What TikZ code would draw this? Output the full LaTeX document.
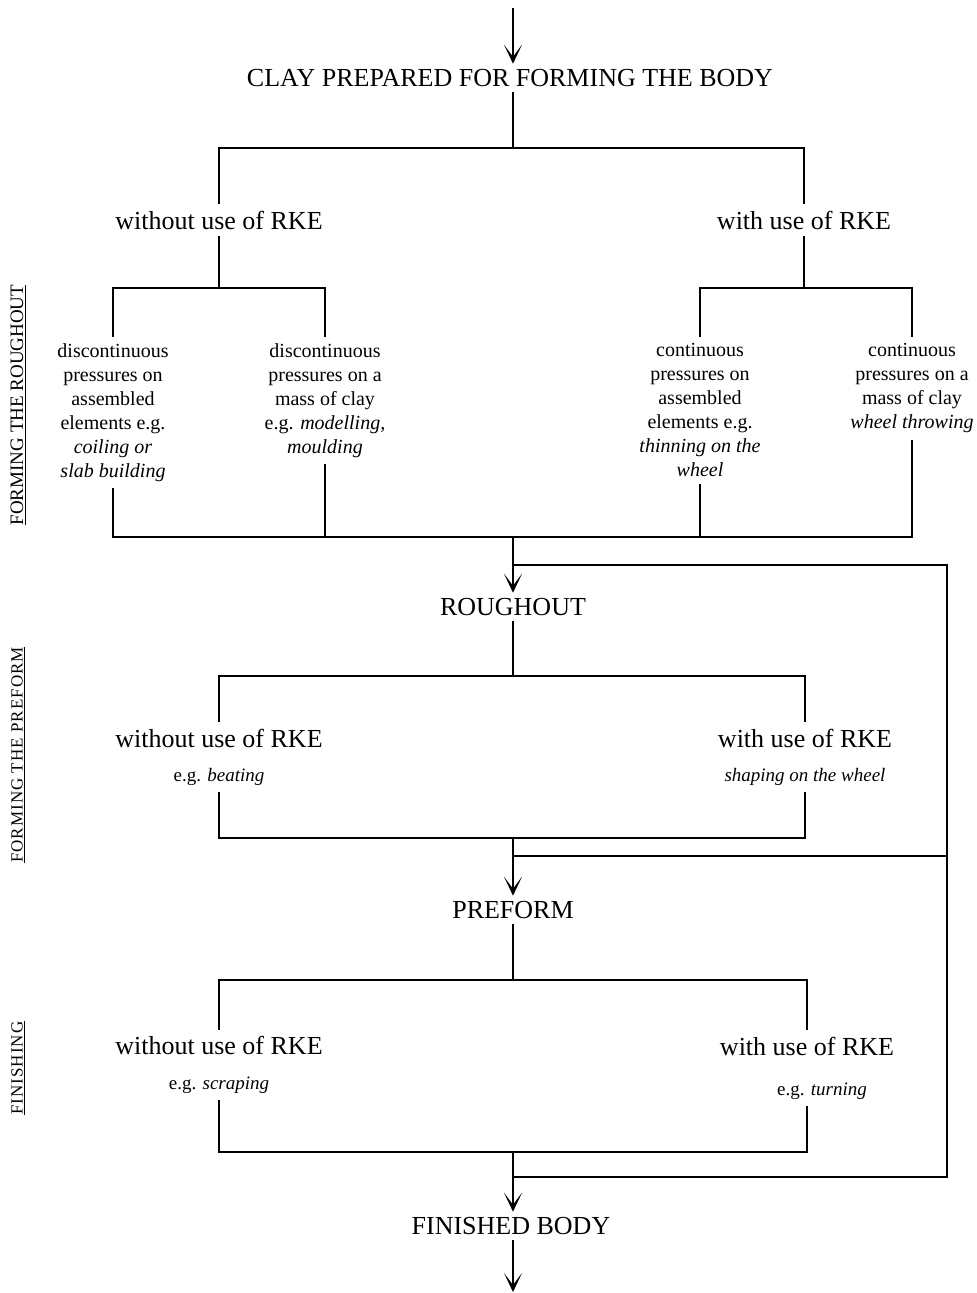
\documentclass[tikz,border=0pt]{standalone}
\usepackage{fontspec}
\setmainfont{Liberation Serif}
\usepackage{tikz}
\usetikzlibrary{arrows.meta,positioning,calc}

\tikzset{
  stage/.style={font=\fontsize{26}{30}\selectfont, inner sep=5pt},
  way/.style={align=center, font=\fontsize{26}{30}\selectfont, inner sep=6pt},
  how/.style={align=center, font=\fontsize{20}{24}\selectfont, inner sep=6pt, anchor=north},
  side/.style={rotate=90, font=\fontsize{19}{22}\selectfont},
  wide/.style={rotate=90, font=\fontsize{17}{19}\selectfont\addfontfeatures{LetterSpace=6}},
  flow/.style={-{Stealth[length=19pt,width=18pt,inset=12pt]}}
}
\newcommand{\eg}[1]{\fontsize{19}{22}\selectfont e.g. \textit{#1}}

\begin{document}
\begin{tikzpicture}[x=1pt, y=-1pt, line width=1.1pt]
    \useasboundingbox (0,0) rectangle (977,1293);

    % Stages
    \coordinate (in) at (513,8);
    \node[stage] (clay) at (510,78) {CLAY PREPARED FOR FORMING THE BODY};
    \node[stage] (rough) at (513,607) {ROUGHOUT};
    \node[stage] (pref) at (513,910) {PREFORM};
    \node[stage] (fin) at (511,1226) {FINISHED BODY};
    \coordinate (out) at (513,1292);

    % Side labels
    \node[side] (sr) at (18,405) {\underline{FORMING THE ROUGHOUT}};
    \node[wide] (sp) at (18,755) {\underline{FORMING THE PREFORM}};
    \node[wide] (sf) at (18,1068) {\underline{FINISHING}};

    % Forming the roughout
    \coordinate (j1) at (513,148);
    \node[way] (wo1) at (219,220) {without use of RKE};
    \node[way] (w1) at (804,220) {with use of RKE};
    \coordinate (j2a) at (219,288);
    \coordinate (j2b) at (804,288);
    \node[how] (ta) at (113,337) {discontinuous\\pressures on\\assembled\\elements e.g.\\\textit{coiling or}\\\textit{slab building}};
    \node[how] (tb) at (325,337) {discontinuous\\pressures on a\\mass of clay\\e.g. \textit{modelling,}\\\textit{moulding}};
    \node[how] (tc) at (700,337) {continuous\\pressures on\\assembled\\elements e.g.\\\textit{thinning on the}\\\textit{wheel}};
    \node[how] (td) at (912,337) {continuous\\pressures on a\\mass of clay\\\textit{wheel throwing}};
    \coordinate (j3) at (513,537);

    \draw[flow] (in) -- (in |- clay.north);
    \draw (clay.south -| j1) -- (j1);
    \draw (wo1.north) |- (j1) -| (w1.north);
    \draw (wo1.south) -- (j2a);
    \draw (w1.south) -- (j2b);
    \draw (ta.north) |- (j2a) -| (tb.north);
    \draw (tc.north) |- (j2b) -| (td.north);
    \draw (ta.south) |- (j3) -| (td.south);
    \foreach \n in {tb,tc}
        \draw (\n.south) -- (\n.south |- j3);
    \draw[flow] (j3) -- (rough.north);

    % Return line on the right
    \coordinate (k1) at (513,565);
    \coordinate (k2) at (513,856);
    \coordinate (k3) at (513,1177);
    \coordinate (r1) at (947,565);
    \coordinate (r3) at (947,1177);
    \draw (k1) -- (r1) -- (r3) -- (k3);
    \draw (r1 |- k2) -- (k2);

    % Forming the preform
    \coordinate (j4) at (513,676);
    \node[way] (wo2) at (219,757) {without use of RKE\\[4pt]\eg{beating}};
    \node[way] (w2) at (805,757) {with use of RKE\\[4pt]{\fontsize{19}{22}\selectfont\textit{shaping on the wheel}}};
    \coordinate (j5) at (513,838);
    \draw (rough.south) -- (j4);
    \draw (wo2.north) |- (j4) -| (w2.north);
    \draw (wo2.south) |- (j5) -| (w2.south);
    \draw[flow] (j5) -- (pref.north);

    % Finishing
    \coordinate (j6) at (513,980);
    \node[way] (wo3) at (219,1065) {without use of RKE\\[5pt]\eg{scraping}};
    \node[way] (w3) at (807,1068) {with use of RKE\\[10pt]\hspace*{30pt}\eg{turning}};
    \coordinate (j7) at (513,1152);
    \draw (pref.south) -- (j6);
    \draw (wo3.north) |- (j6) -| (w3.north);
    \draw (wo3.south) |- (j7) -| (w3.south);
    \draw[flow] (j7) -- (fin.north -| j7);
    \draw[flow] (fin.south -| out) -- (out);

\end{tikzpicture}
\end{document}
